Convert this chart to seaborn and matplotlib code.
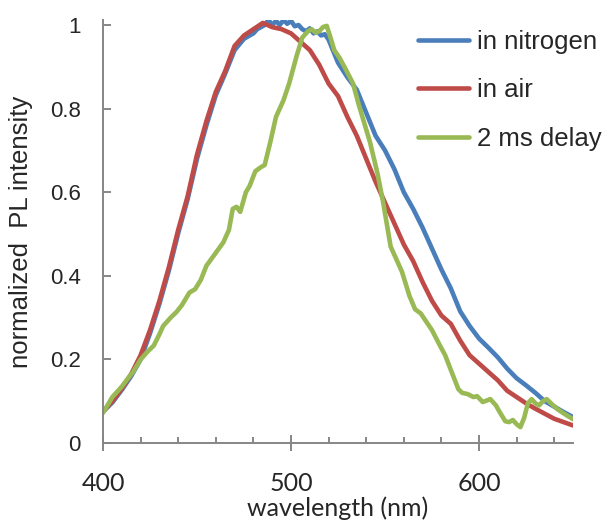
import matplotlib
matplotlib.use("Agg")
import matplotlib.pyplot as plt
import seaborn as sns
import pandas as pd
from matplotlib.ticker import MultipleLocator

# ---------------- data ----------------
wl_air = [400, 405, 410, 415, 420, 425, 430, 435, 440, 445, 450, 455, 460, 465,
          470, 475, 480, 485, 490, 495, 500, 505, 510, 515, 520, 525, 530, 535,
          540, 545, 550, 555, 560, 565, 570, 575, 580, 585, 590, 595, 600, 605,
          610, 615, 620, 625, 630, 635, 640, 645, 650]
pl_air = [0.075, 0.10, 0.13, 0.165, 0.21, 0.27, 0.34, 0.42, 0.51, 0.59, 0.69,
          0.77, 0.84, 0.89, 0.95, 0.975, 0.99, 1.005, 0.995, 0.99, 0.98, 0.96,
          0.94, 0.905, 0.86, 0.83, 0.78, 0.735, 0.68, 0.625, 0.575, 0.525,
          0.475, 0.435, 0.385, 0.34, 0.305, 0.285, 0.245, 0.21, 0.19, 0.17,
          0.15, 0.125, 0.11, 0.095, 0.082, 0.07, 0.058, 0.05, 0.042]

wl_n2 = [400, 405, 410, 415, 420, 425, 430, 435, 440, 445, 450, 455, 460, 465,
         470, 475, 478, 480, 482, 484, 486, 488, 490, 492, 494, 496, 498, 500,
         502, 504, 506, 508, 510, 512, 514, 516, 518, 520, 525, 530, 535, 540,
         545, 550, 555, 560, 565, 570, 575, 580, 585, 590, 595, 600, 605, 610,
         615, 620, 625, 630, 635, 640, 645, 650]
pl_n2 = [0.075, 0.097, 0.127, 0.16, 0.2, 0.262, 0.333, 0.412, 0.502, 0.583,
         0.68, 0.76, 0.832, 0.884, 0.94, 0.967, 0.975, 0.98, 0.99, 0.995, 1.0,
         1.012, 1.0, 1.01, 1.0, 1.012, 1.003, 1.01, 0.997, 1.0, 0.99, 0.985,
         0.992, 0.98, 0.985, 0.975, 0.978, 0.965, 0.91, 0.875, 0.845, 0.79,
         0.735, 0.70, 0.655, 0.60, 0.56, 0.515, 0.465, 0.415, 0.37, 0.315,
         0.28, 0.25, 0.228, 0.205, 0.178, 0.155, 0.138, 0.12, 0.10, 0.087,
         0.074, 0.062]

wl_delay = [400, 405, 410, 413, 416, 420, 424, 427, 430, 432, 436, 439, 442,
            446, 449, 452, 455, 460, 464, 467, 469, 471, 473, 476, 478, 481,
            484, 486, 489, 492, 496, 499, 503, 506, 509, 511, 513, 515, 517,
            519, 521, 523, 526, 529, 533, 536, 538, 542, 546, 549, 553, 556,
            559, 563, 566, 569, 572, 575, 579, 582, 585, 589, 591, 594, 597,
            599, 602, 606, 609, 611, 614, 616, 618, 620, 622, 624, 626, 628,
            630, 632, 634, 636, 639, 642, 646, 650]
pl_delay = [0.072, 0.11, 0.135, 0.153, 0.17, 0.2, 0.22, 0.233, 0.26, 0.28,
            0.30, 0.313, 0.33, 0.36, 0.368, 0.39, 0.424, 0.455, 0.48, 0.51,
            0.56, 0.565, 0.553, 0.6, 0.615, 0.65, 0.66, 0.665, 0.72, 0.78,
            0.82, 0.86, 0.926, 0.97, 0.985, 0.99, 0.982, 0.985, 0.995, 0.998,
            0.97, 0.94, 0.92, 0.895, 0.86, 0.81, 0.78, 0.72, 0.645, 0.576,
            0.47, 0.44, 0.41, 0.352, 0.32, 0.31, 0.29, 0.27, 0.235, 0.21,
            0.175, 0.129, 0.12, 0.117, 0.11, 0.112, 0.098, 0.105, 0.09, 0.074,
            0.052, 0.05, 0.055, 0.045, 0.038, 0.06, 0.095, 0.105, 0.095, 0.09,
            0.1, 0.105, 0.092, 0.08, 0.068, 0.057]

series_names = ["in nitrogen", "in air", "2 ms delay"]
series_colors = ["#4A7EBB", "#BE4B48", "#98B954"]
x_ticks = [400, 500, 600]
y_ticks = [0, 0.2, 0.4, 0.6, 0.8, 1.0]
y_tick_labels = ["0", "0.2", "0.4", "0.6", "0.8", "1"]

# ---------------- plot ----------------
sns.set_style("white")
plt.rcParams["font.family"] = ["Liberation Sans", "DejaVu Sans"]

fig = plt.figure(figsize=(6.11, 5.21), dpi=100)
ax = fig.add_axes([103 / 611, 1 - 443 / 521, 470 / 611, (443 - 20) / 521])

frames = [
    pd.DataFrame({"wl": wl_n2, "pl": pl_n2, "s": series_names[0]}),
    pd.DataFrame({"wl": wl_air, "pl": pl_air, "s": series_names[1]}),
    pd.DataFrame({"wl": wl_delay, "pl": pl_delay, "s": series_names[2]}),
]
for df, c in zip(frames, series_colors):
    sns.lineplot(data=df, x="wl", y="pl", color=c, linewidth=3.3,
                 label=df["s"].iloc[0], ax=ax, sort=False, estimator=None)

ax.set_xlim(400, 650)
ax.set_ylim(0, 1.012)
ax.set_xticks(x_ticks)
ax.xaxis.set_minor_locator(MultipleLocator(20))
ax.set_yticks(y_ticks)
ax.set_yticklabels(y_tick_labels)

for s in ["top", "right"]:
    ax.spines[s].set_visible(False)
for s in ["left", "bottom"]:
    ax.spines[s].set_color("#868686")
    ax.spines[s].set_linewidth(1.4)

ax.tick_params(axis="y", which="major", direction="in", length=6, width=1.4,
               color="#868686", labelsize=16, pad=16, left=True)
ax.tick_params(axis="x", which="major", direction="inout", length=12,
               width=1.4, color="#868686", labelsize=18, pad=15, bottom=True)
ax.tick_params(axis="x", which="minor", direction="in", length=4, width=1.4,
               color="#868686", bottom=True)
for lbl in ax.get_xticklabels():
    lbl.set_fontfamily(["Lato", "DejaVu Sans"])

ax.set_xlabel("wavelength (nm)", fontsize=18, family=["Lato", "DejaVu Sans"],
              labelpad=1)
ax.set_ylabel("normalized  PL intensity", fontsize=18.5, labelpad=12)

leg = ax.legend(loc="upper left", bbox_to_anchor=(418 / 611, 1 - 30 / 521),
                bbox_transform=fig.transFigure, frameon=False, fontsize=18.5,
                handlelength=2.0, handletextpad=0.3, labelspacing=0.95,
                borderpad=0, borderaxespad=0)
for line in leg.get_lines():
    line.set_linewidth(3.3)

fig.savefig("out.png", dpi=100)
